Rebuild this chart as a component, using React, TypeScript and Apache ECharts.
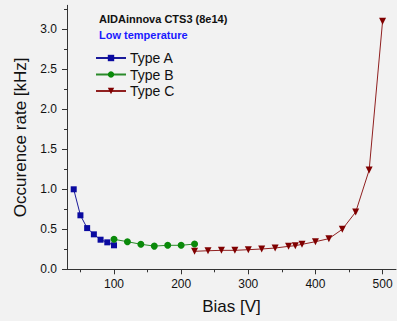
import React, { useEffect, useRef } from "react";
import * as echarts from "echarts";

const typeAx = [40, 50, 60, 70, 80, 90, 100];
const typeAy = [1.0, 0.675, 0.515, 0.437, 0.37, 0.337, 0.3];
const typeBx = [100, 120, 140, 160, 180, 200, 220];
const typeBy = [0.375, 0.345, 0.313, 0.29, 0.3, 0.3, 0.316];
const typeCx = [220, 240, 260, 280, 300, 320, 340, 360, 370, 380, 400, 420, 440, 460, 480, 500];
const typeCy = [0.225, 0.232, 0.237, 0.237, 0.245, 0.254, 0.266, 0.287, 0.295, 0.312, 0.345, 0.383, 0.5, 0.716, 1.24, 3.1];

const xMajor = [100, 200, 300, 400, 500];
const xMinor = [50, 150, 250, 350, 450];
const yMajor = [0, 0.5, 1.0, 1.5, 2.0, 2.5, 3.0];
const yMinor = [0.25, 0.75, 1.25, 1.75, 2.25, 2.75, 3.25];

const titleText = "AIDAinnova CTS3 (8e14)";
const subText = "Low temperature";

const FONT = "'Liberation Sans', Arial, sans-serif";

export default function App() {
  const ref = useRef<HTMLDivElement>(null);
  useEffect(() => {
    if (!ref.current) return;
    const chart = echarts.init(ref.current, null, { renderer: "svg" });
    const zip = (xs: number[], ys: number[]) => xs.map((x, i) => [x, ys[i]]);
    const axisCommon = {
      min: 30,
      max: 520,
      splitLine: { show: false },
    };
    chart.setOption({
      animation: false,
      backgroundColor: "#f2f2f2",
      textStyle: { fontFamily: FONT },
      title: [
        {
          text: titleText,
          left: 99,
          top: 12,
          padding: 0,
          textStyle: { fontSize: 11, fontWeight: "bold", color: "#111", fontFamily: FONT, lineHeight: 13 },
        },
        {
          text: subText,
          left: 99,
          top: 28.5,
          padding: 0,
          textStyle: { fontSize: 11, fontWeight: "bold", color: "#1a1aff", fontFamily: FONT, lineHeight: 13 },
        },
      ],
      legend: {
        orient: "vertical",
        left: 95,
        top: 51,
        padding: 0,
        itemGap: 2.5,
        itemWidth: 30,
        itemHeight: 8,
        textStyle: { fontSize: 14, color: "#111", fontFamily: FONT, padding: [0, 0, 0, -1] },
        data: ["Type A", "Type B", "Type C"],
      },
      grid: { left: 67, right: 1, top: 5.3, bottom: 51.7, containLabel: false },
      xAxis: [
        {
          ...axisCommon,
          type: "value",
          name: "Bias [V]",
          nameLocation: "middle",
          nameGap: 29,
          nameTextStyle: { fontSize: 17, color: "#111", fontFamily: FONT },
          axisLine: { show: true, lineStyle: { color: "#333", width: 1 } },
          axisTick: { show: true, length: 5, customValues: xMajor, lineStyle: { color: "#333" } },
          axisLabel: { customValues: xMajor, fontSize: 12, color: "#111", margin: 9, fontFamily: FONT },
        },
        {
          ...axisCommon,
          type: "value",
          position: "bottom",
          axisLine: { show: false },
          axisTick: { show: true, length: 3, customValues: xMinor, lineStyle: { color: "#333" } },
          axisLabel: { show: false },
        },
      ],
      yAxis: [
        {
          type: "value",
          min: 0,
          max: 3.3,
          name: "Occurence rate [kHz]",
          nameLocation: "middle",
          nameGap: 35,
          nameTextStyle: { fontSize: 17, color: "#111", fontFamily: FONT },
          splitLine: { show: false },
          axisLine: { show: true, lineStyle: { color: "#333", width: 1 } },
          axisTick: { show: true, length: 5, customValues: yMajor, lineStyle: { color: "#333" } },
          axisLabel: {
            customValues: yMajor,
            fontSize: 12,
            color: "#111",
            margin: 10,
            fontFamily: FONT,
            formatter: (v: number) => v.toFixed(1),
          },
        },
        {
          type: "value",
          min: 0,
          max: 3.3,
          position: "left",
          splitLine: { show: false },
          axisLine: { show: false },
          axisTick: { show: true, length: 3, customValues: yMinor, lineStyle: { color: "#333" } },
          axisLabel: { show: false },
        },
      ],
      series: [
        {
          name: "Type A",
          type: "line",
          data: zip(typeAx, typeAy),
          symbol: "rect",
          symbolSize: 6,
          itemStyle: { color: "#0a0aa0" },
          lineStyle: { color: "#1a1a9a", width: 1 },
        },
        {
          name: "Type B",
          type: "line",
          data: zip(typeBx, typeBy),
          symbol: "circle",
          symbolSize: 7,
          itemStyle: { color: "#0a8a0a" },
          lineStyle: { color: "#2a8a2a", width: 1 },
        },
        {
          name: "Type C",
          type: "line",
          data: zip(typeCx, typeCy),
          symbol: "triangle",
          symbolRotate: 180,
          symbolSize: 7,
          itemStyle: { color: "#800000" },
          lineStyle: { color: "#902020", width: 1 },
        },
      ],
    });
    return () => chart.dispose();
  }, []);
  return (
    <div style={{ position: "fixed", left: 0, top: 0, width: 397, height: 321, background: "#f2f2f2" }}>
      <div ref={ref} style={{ width: 397, height: 321 }} />
    </div>
  );
}
